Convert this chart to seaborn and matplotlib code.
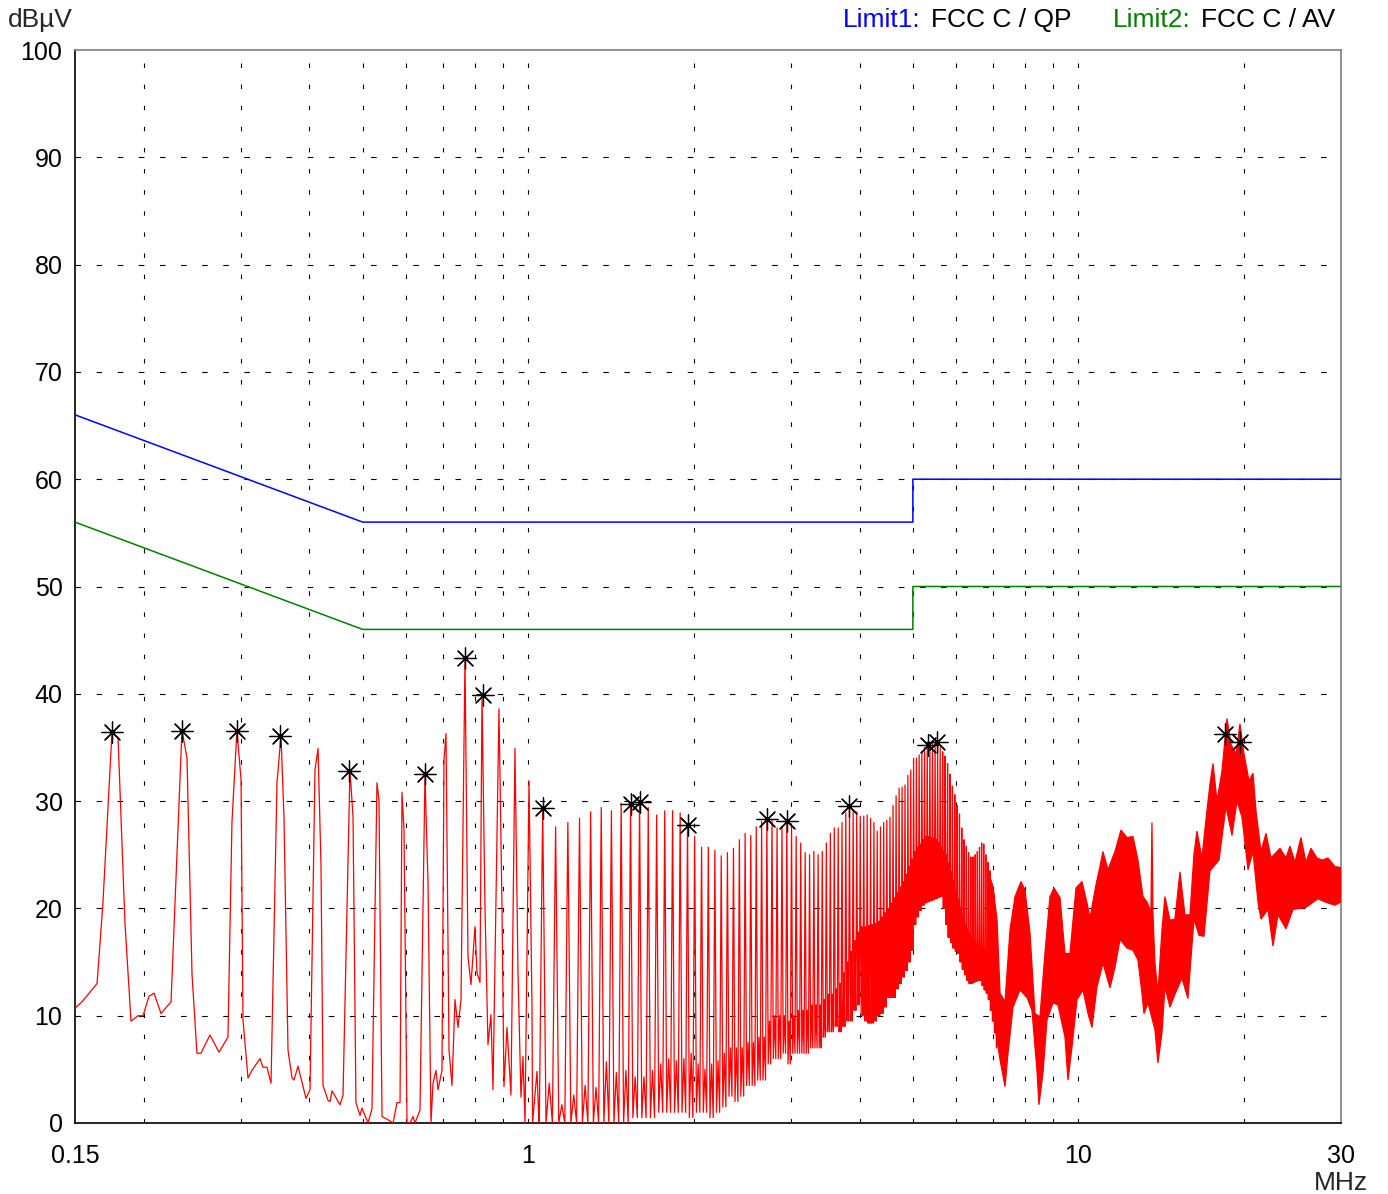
import numpy as np
import pandas as pd
import matplotlib
matplotlib.use("Agg")
import matplotlib.pyplot as plt
import seaborn as sns

# ---------------- data ----------------
# low-frequency part of the scan (MHz, dBuV)
low_freq = [0.150, 0.1545, 0.1645, 0.1686, 0.1751, 0.1796, 0.1849, 0.1896, 0.1953, 0.1994,
            0.2044, 0.2088, 0.2150, 0.2242, 0.2347, 0.2397, 0.2448, 0.2499, 0.2541, 0.2639,
            0.2740, 0.2845, 0.2893, 0.2954, 0.3005, 0.3030, 0.3094, 0.3146, 0.3253, 0.3294,
            0.3350, 0.3407, 0.3493, 0.3552, 0.3597, 0.3658, 0.3720, 0.3751, 0.3814, 0.3944,
            0.4011, 0.4095, 0.4148, 0.4200, 0.4235, 0.4325, 0.4361, 0.4398, 0.4547, 0.4605,
            0.4741, 0.4802, 0.4861, 0.4944, 0.4984, 0.5112, 0.5198, 0.5308, 0.5353, 0.5421,
            0.5559, 0.5677, 0.5772, 0.5846, 0.5894, 0.5944, 0.6019, 0.6095, 0.6171, 0.6224,
            0.6355, 0.6489, 0.6572, 0.6654, 0.6711, 0.6795, 0.6853, 0.6968, 0.7027, 0.7086,
            0.7176, 0.7266, 0.7358, 0.7451, 0.7545, 0.7672, 0.7769, 0.7867, 0.8000, 0.8067,
            0.8169, 0.8238, 0.8342, 0.8447, 0.8554, 0.8626, 0.8845, 0.8957, 0.9032, 0.9147,
            0.9300, 0.9458, 0.9578, 0.9698, 0.9779, 0.9862, 1.0030, 1.0155, 1.0180, 1.0370,
            1.0457]
low_db = [10.7, 11.3, 13.0, 20.5, 36.4, 35.9, 18.6, 9.5, 10.0, 10.0,
          11.8, 12.1, 10.2, 11.3, 36.6, 34.0, 13.8, 6.5, 6.5, 8.2,
          6.6, 8.0, 28.0, 36.6, 32.0, 9.6, 4.2, 4.9, 6.0, 5.2,
          5.2, 3.7, 31.7, 36.1, 28.5, 6.8, 4.2, 4.0, 5.3, 2.3,
          3.1, 32.9, 34.9, 23.9, 3.5, 2.1, 2.0, 3.0, 1.7, 2.6,
          32.9, 28.5, 1.9, 0.7, 1.4, 0.0, 1.3, 31.7, 30.1, 0.6,
          0.3, 0.0, 1.9, 1.9, 30.8, 27.3, 0.0, 0.0, 0.6, 0.0,
          1.2, 32.4, 22.4, 0.0, 3.7, 4.9, 3.1, 4.9, 33.8, 36.3,
          6.8, 3.5, 11.5, 8.9, 11.5, 43.3, 15.5, 12.9, 18.3, 14.0,
          13.1, 39.9, 20.1, 7.3, 10.1, 3.1, 38.6, 20.1, 3.4, 8.9,
          2.6, 34.9, 14.0, 2.4, 6.2, 0.0, 31.9, 10.8, 0.0, 4.8,
          0.0]

# harmonic lines 1 - 7 MHz: frequency, peak level, trough level after the line,
# and the level of the small bump between this line and the next
harm_freq = [1.062, 1.121, 1.180, 1.239, 1.298, 1.357, 1.416, 1.475, 1.534, 1.593,
             1.652, 1.711, 1.770, 1.829, 1.888, 1.947, 2.006, 2.065, 2.124, 2.183,
             2.242, 2.301, 2.360, 2.419, 2.478, 2.537, 2.596, 2.655, 2.714, 2.773,
             2.832, 2.891, 2.950, 3.009, 3.068, 3.127, 3.186, 3.245, 3.304, 3.363,
             3.422, 3.481, 3.540, 3.599, 3.658, 3.717, 3.776, 3.835, 3.894, 3.953,
             4.012, 4.071, 4.130, 4.189, 4.248, 4.307, 4.366, 4.425, 4.484, 4.543,
             4.602, 4.661, 4.720, 4.779, 4.838, 4.897, 4.956, 5.015, 5.074, 5.133,
             5.192, 5.251, 5.310, 5.369, 5.428, 5.487, 5.546, 5.605, 5.664, 5.723,
             5.782, 5.841, 5.900, 5.959, 6.018, 6.077, 6.136, 6.195, 6.254, 6.313,
             6.372, 6.431, 6.490, 6.549, 6.608, 6.667, 6.726, 6.785, 6.844, 6.903,
             6.962, 7.021, 7.080]
harm_peak = [29.4, 27.6, 28.0, 28.4, 29.0, 29.4, 29.1, 29.8, 29.7, 29.9,
             29.4, 28.7, 29.1, 29.1, 28.9, 27.8, 26.7, 25.7, 25.7, 25.4,
             24.9, 25.2, 25.6, 26.4, 27.0, 26.8, 27.6, 28.1, 28.3, 28.3,
             27.5, 27.6, 28.1, 27.8, 26.7, 26.1, 25.2, 25.0, 25.3, 25.0,
             25.3, 26.1, 27.0, 27.5, 27.5, 28.0, 28.9, 29.5, 29.2, 29.0,
             28.6, 28.6, 28.7, 28.4, 28.0, 27.2, 27.6, 28.0, 28.2, 28.5,
             29.6, 30.5, 31.2, 31.3, 31.5, 32.4, 32.9, 34.0, 34.0, 34.3,
             34.6, 35.0, 35.2, 35.4, 35.4, 35.5, 35.3, 35.0, 34.6, 34.2,
             33.5, 32.5, 31.4, 30.6, 29.6, 28.8, 27.5, 26.4, 25.8, 25.2,
             24.8, 24.8, 25.0, 25.3, 25.7, 26.1, 26.0, 25.0, 24.3, 23.5,
             22.3, 21.3, 19.5]
harm_trough = [0.0, 0.0, 0.0, 0.0, 0.0, 0.0, 0.0, 0.0, 0.5, 0.5,
               0.5, 1.0, 1.0, 1.0, 1.0, 0.5, 1.0, 1.0, 0.5, 1.0,
               1.5, 2.5, 2.0, 2.5, 3.5, 3.5, 4.0, 4.0, 5.5, 6.0,
               6.0, 6.5, 5.5, 6.5, 6.5, 6.5, 6.5, 7.0, 7.0, 7.0,
               8.0, 8.5, 8.5, 9.0, 8.5, 9.0, 9.5, 9.5, 10.5, 11.0,
               10.0, 9.5, 9.3, 9.3, 9.5, 10.0, 10.2, 10.8, 11.7, 11.7,
               11.7, 12.5, 13.0, 13.6, 14.2, 15.0, 16.1, 18.5, 19.2, 19.8,
               20.3, 20.5, 20.6, 20.7, 20.8, 20.9, 21.0, 21.1, 20.0, 18.5,
               17.3, 16.8, 16.3, 16.0, 15.8, 15.0, 14.3, 13.8, 13.3, 13.0,
               13.0, 13.1, 13.2, 13.3, 13.3, 12.8, 12.4, 12.1, 11.5, 10.5,
               9.5, 8.4, 7.0]
harm_bump = [3.7, 1.7, 2.6, 3.5, 3.3, 5.7, 4.7, 4.9, 4.3, 4.3,
             4.9, 5.5, 6.0, 5.8, 6.0, 6.5, 5.5, 5.0, 5.5, 5.8,
             6.5, 7.0, 7.0, 7.0, 7.5, 7.5, 8.0, 8.0, 9.5, 10.0,
             10.0, 10.0, 9.5, 10.0, 10.5, 10.5, 10.5, 11.0, 11.0, 11.0,
             11.5, 12.0, 12.0, 12.5, 13.0, 14.0, 15.0, 16.0, 17.0, 17.8,
             18.3, 18.3, 18.4, 18.5, 18.6, 18.8, 19.2, 19.6, 20.0, 20.5,
             21.0, 21.5, 22.0, 22.5, 23.2, 23.9, 24.6, 25.3, 25.7, 26.0,
             26.4, 26.7, 26.7, 26.6, 26.5, 26.4, 26.1, 25.7, 25.4, 25.0,
             24.2, 23.4, 22.6, 21.6, 20.8, 20.1, 19.4, 18.5, 18.1, 17.7,
             17.3, 17.0, 16.7, 16.6, 16.5, 16.3, 16.2, 16.0, 15.5, 15.0,
             14.3, 13.5, 12.8]

# dense noise band 7 - 30 MHz (upper / lower envelope)
band_up_freq = [6.906, 6.993, 7.111, 7.201, 7.353, 7.508, 7.667, 7.862, 7.994, 8.163,
                8.335, 8.511, 8.690, 8.875, 9.026, 9.255, 9.451, 9.650, 9.896, 10.148,
                10.362, 10.493, 10.760, 10.941, 11.079, 11.314, 11.650, 11.946, 12.250, 12.561,
                12.826, 13.097, 13.319, 13.487, 13.544, 13.600, 13.657, 13.772, 13.946, 14.181,
                14.360, 14.663, 14.973, 15.290, 15.613, 15.943, 16.212, 16.417, 16.764, 17.119,
                17.338, 17.557, 17.853, 18.231, 18.616, 18.930, 19.331, 19.657, 19.989, 20.412,
                20.757, 21.019, 21.463, 21.917, 22.380, 23.240, 23.830, 24.232, 24.744, 25.372,
                25.908, 26.456, 27.128, 27.701, 28.404, 29.249, 30.0]
band_up_db = [22.9, 22.0, 18.9, 12.1, 11.3, 18.0, 21.1, 22.5, 21.7, 17.7,
              10.2, 9.9, 15.8, 21.1, 21.9, 21.0, 15.8, 15.8, 21.9, 22.5,
              20.5, 19.1, 22.2, 23.9, 25.3, 23.6, 25.3, 27.3, 26.6, 26.7,
              24.5, 21.1, 20.6, 19.9, 20.0, 28.0, 19.5, 14.9, 12.1, 18.0,
              21.1, 18.9, 19.0, 23.4, 19.4, 19.4, 25.0, 27.2, 24.7, 29.1,
              31.6, 33.5, 30.0, 32.8, 37.7, 35.3, 34.4, 37.2, 34.4, 31.9,
              32.6, 29.1, 25.3, 27.0, 24.7, 25.6, 24.7, 25.8, 24.3, 26.6,
              24.3, 25.6, 24.7, 24.5, 24.7, 23.9, 23.8]
band_lo_freq = [6.906, 7.052, 7.201, 7.353, 7.445, 7.603, 7.829, 8.062, 8.231, 8.405,
                8.475, 8.619, 8.764, 8.987, 9.179, 9.451, 9.570, 9.732, 9.937, 10.190,
                10.406, 10.581, 10.805, 11.079, 11.409, 11.650, 11.896, 12.250, 12.561, 12.826,
                13.043, 13.153, 13.375, 13.772, 13.946, 14.181, 14.360, 14.663, 14.973, 15.418,
                15.810, 16.212, 16.557, 16.907, 17.338, 18.003, 18.538, 19.010, 19.412, 19.825,
                20.327, 20.757, 21.196, 21.463, 22.101, 22.568, 23.045, 23.830, 24.537, 25.908,
                27.242, 28.051, 29.249, 30.0]
band_lo_db = [14.0, 8.9, 5.9, 3.4, 6.5, 10.8, 12.4, 11.7, 10.5, 4.9,
              1.7, 4.7, 9.6, 11.2, 11.0, 8.0, 4.0, 7.1, 11.5, 12.4,
              10.2, 8.9, 12.7, 14.9, 12.6, 14.5, 17.1, 16.3, 16.1, 15.2,
              12.1, 10.2, 11.2, 8.7, 5.6, 8.4, 12.7, 10.8, 12.0, 13.5,
              11.6, 19.0, 17.5, 17.4, 23.5, 24.5, 29.5, 26.8, 30.0, 28.5,
              23.6, 25.3, 20.6, 19.0, 19.9, 16.5, 19.4, 18.1, 19.9, 20.1,
              20.9, 20.6, 20.3, 20.6]

# limits
qp_freq = [0.15, 0.5, 5.0, 5.0, 30.0]
qp_db = [66, 56, 56, 60, 60]
av_freq = [0.15, 0.5, 5.0, 5.0, 30.0]
av_db = [56, 46, 46, 50, 50]

# peak markers
star_freq = [0.175, 0.235, 0.295, 0.354, 0.472, 0.649, 0.767, 0.826, 1.062, 1.537,
             1.596, 1.950, 2.715, 2.950, 3.830, 5.33, 5.53, 18.47, 19.66]
star_db = [36.4, 36.5, 36.5, 36.1, 32.8, 32.5, 43.3, 39.9, 29.4, 29.7,
           29.9, 27.8, 28.3, 28.1, 29.5, 35.2, 35.5, 36.3, 35.5]

y_ticks = [0, 10, 20, 30, 40, 50, 60, 70, 80, 90, 100]
y_grid = [10, 20, 30, 40, 50, 60, 70, 80, 90]
x_ticks = [0.15, 1, 10, 30]
x_tick_labels = ["0.15", "1", "10", "30"]
x_grid = [0.2, 0.3, 0.4, 0.5, 0.6, 0.7, 0.8, 0.9, 1, 2, 3, 4, 5, 6, 7, 8, 9, 10, 20]

# ---------------- style ----------------
sns.set_style("white")
plt.rcParams['font.family'] = ['Liberation Sans', 'DejaVu Sans']
FS_TICK = 18
FS_TXT = 19
RED = "#ff0000"

W, H = 1388, 1194
fig = plt.figure(figsize=(W / 100, H / 100), dpi=100)
ax = fig.add_axes([75 / W, 1 - 1123 / H, (1341 - 75) / W, (1123 - 50) / H])

# build the line trace: narrow spike at each harmonic, small bump between lines
SPIKE_HALF = 0.015   # half width of a harmonic line (MHz)
BUMP_OFFSET = 0.0295  # bump sits half-way to the next line (MHz)
xs, ys = [], []
prev = low_db[-1]
for f, p, t, b in zip(harm_freq, harm_peak, harm_trough, harm_bump):
    xs += [f - SPIKE_HALF, f, f + SPIKE_HALF, f + BUMP_OFFSET]
    ys += [prev, p, t, b]
    prev = t
trace = pd.DataFrame({"freq": low_freq + xs, "level": low_db + ys})

sns.lineplot(data=trace, x="freq", y="level", sort=False, estimator=None,
             color=RED, lw=0.9, ax=ax, zorder=3)

poly_x = list(band_up_freq) + list(band_lo_freq[::-1])
poly_y = list(band_up_db) + list(band_lo_db[::-1])
ax.fill(poly_x, poly_y, facecolor=RED, edgecolor=RED, lw=0.9, zorder=3)

sns.lineplot(x=qp_freq, y=qp_db, sort=False, estimator=None, color="#0000ff", lw=1.1, ax=ax, zorder=4)
sns.lineplot(x=av_freq, y=av_db, sort=False, estimator=None, color="#008000", lw=1.1, ax=ax, zorder=4)

sns.scatterplot(x=star_freq, y=star_db, marker=(8, 2, 0), s=230, color="black",
                linewidth=0.9, ax=ax, zorder=6)
sns.scatterplot(x=star_freq, y=star_db, marker="o", s=6, color="black",
                linewidth=0, ax=ax, zorder=7)

ax.set_xscale("log")
ax.set_xlim(0.15, 30)
ax.set_ylim(0, 100)
ax.set_xticks(x_ticks)
ax.set_xticklabels(x_tick_labels)
ax.set_xticks(x_grid, minor=True)
ax.set_xticklabels([], minor=True)
ax.xaxis.remove_overlapping_locs = False
ax.yaxis.remove_overlapping_locs = False
ax.set_yticks(y_ticks)
ax.set_yticks(y_grid, minor=True)
ax.set_yticklabels([], minor=True)
ax.set_xlabel("")
ax.set_ylabel("")
ax.tick_params(axis="both", which="both", length=0, labelsize=FS_TICK, colors="black")
ax.tick_params(axis="x", pad=15)
ax.tick_params(axis="y", pad=9)

ax.grid(False)
ax.grid(True, which="minor", axis="x", color="black", lw=0.8, linestyle=(0, (4, 15)))
ax.grid(True, which="minor", axis="y", color="black", lw=0.8, linestyle=(0, (5, 14)))
ax.set_axisbelow(True)

for side in ["left", "bottom"]:
    ax.spines[side].set_color("black")
    ax.spines[side].set_linewidth(1.2)
for side in ["top", "right"]:
    ax.spines[side].set_color("#808080")
    ax.spines[side].set_linewidth(1.2)

def px(x, y):
    return x / W, 1 - y / H

fig.text(*px(8, 20), "dBµV", ha="left", va="center", fontsize=FS_TXT)
fig.text(*px(1341, 1183), "MHz", ha="center", va="center", fontsize=FS_TXT)
fig.text(*px(843, 20), "Limit1:", ha="left", va="center", fontsize=FS_TXT, color="#0000ff")
fig.text(*px(931, 20), "FCC C / QP", ha="left", va="center", fontsize=FS_TXT, color="black")
fig.text(*px(1113, 20), "Limit2:", ha="left", va="center", fontsize=FS_TXT, color="#008000")
fig.text(*px(1201, 20), "FCC C / AV", ha="left", va="center", fontsize=FS_TXT, color="black")

fig.savefig("out.png", dpi=100, facecolor="white")
